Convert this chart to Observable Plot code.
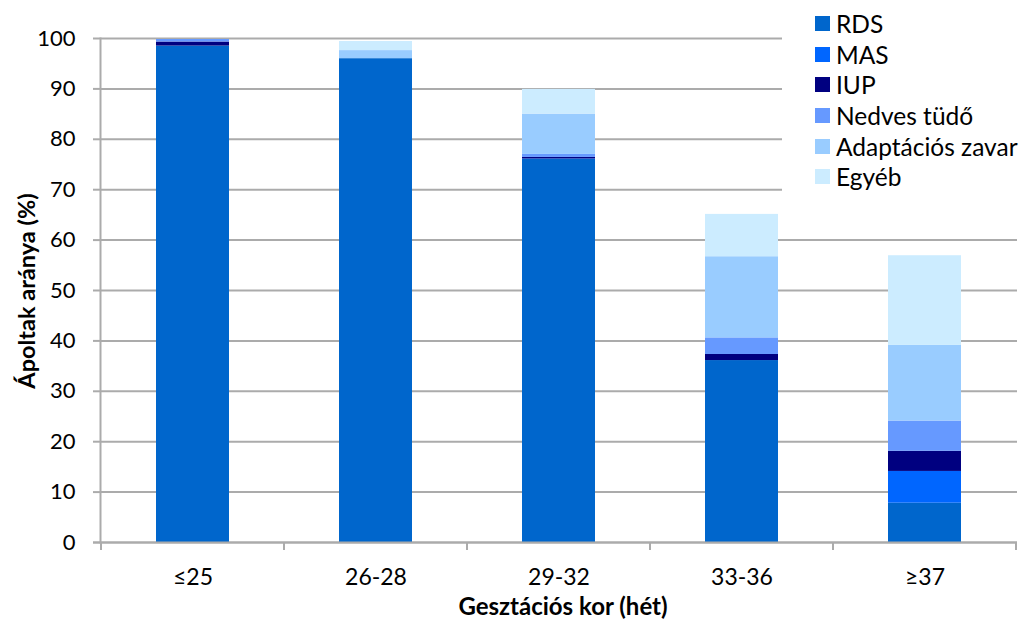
<!DOCTYPE html>
<html><head><meta charset="utf-8">
<script src="https://cdn.jsdelivr.net/npm/d3@7"></script>
<script src="https://cdn.jsdelivr.net/npm/@observablehq/plot@0.6"></script>
<style>
body{margin:0;background:#fff;font-family:Lato,"Noto Sans",sans-serif}
#wrap{position:relative;width:1022px;height:619px;overflow:hidden}
#legend{position:absolute;left:782px;top:4px;width:240px;background:#fff;padding:4px 0 8px 0}
.li{display:flex;align-items:center;height:30.7px;font-size:24.5px;color:#000;padding-left:33px;white-space:nowrap}
.sw{width:15px;height:15px;margin-right:6px;flex:none}
#ytitle{position:absolute;left:26px;top:291px;transform:translate(-50%,-50%) rotate(-90deg);font-weight:bold;font-size:23.5px;white-space:nowrap}
#xtitle{position:absolute;left:563px;top:605px;transform:translate(-50%,-50%);font-weight:bold;font-size:24px;white-space:nowrap}
</style></head><body><div id="wrap"></div>
<script>
const categories = ["≤25","26-28","29-32","33-36","≥37"];
const series = ["RDS","MAS","IUP","Nedves tüdő","Adaptációs zavar","Egyéb"];
const colors = ["#0066CC","#0066FF","#000080","#6699FF","#99CCFF","#CCECFF"];
const rds    = [98.5, 96.0, 76.0, 36.1, 7.8];
const mas    = [0.0, 0.0, 0.1, 0.0, 6.3];
const iup    = [0.8, 0.0, 0.3, 1.2, 4.0];
const nedves = [0.5, 0.0, 0.6, 3.3, 6.0];
const adapt  = [0.0, 1.6, 8.0, 16.1, 15.0];
const egyeb  = [0.0, 1.8, 4.9, 8.4, 17.8];
const yTicks = [0,10,20,30,40,50,60,70,80,90,100];
const yTitle = "Ápoltak aránya (%)";
const xTitle = "Gesztációs kor (hét)";

const valueArrays = [rds, mas, iup, nedves, adapt, egyeb];
const data = [];
series.forEach((s, si) => categories.forEach((c, ci) => data.push({cat: c, series: s, value: valueArrays[si][ci]})));

const axisColor = "#ABABAB";
const PI = 0.6, PO = 0.3;

function bandTicks(index, scales, values, dims) {
  const x = scales.x;
  const n = categories.length;
  let step = typeof x.step === "function" ? x.step() : x.step;
  let bw = typeof x.bandwidth === "function" ? x.bandwidth() : x.bandwidth;
  if (!(step > 0)) { step = (dims.width - dims.marginLeft - dims.marginRight) / (n - PI + 2 * PO); bw = step * (1 - PI); }
  const gap = (step - bw) / 2;
  const edges = categories.map(c => x(c) - gap);
  edges.push(x(categories[n - 1]) + bw + gap);
  const y0 = scales.y(0);
  const g = d3.create("svg:g").attr("stroke", axisColor).attr("stroke-width", 2);
  g.selectAll("line").data(edges).join("line")
    .attr("x1", d => d).attr("x2", d => d).attr("y1", y0).attr("y2", y0 + 8);
  return g.node();
}

const plot = Plot.plot({
  width: 1022,
  height: 619,
  marginLeft: 100,
  marginRight: 5,
  marginTop: 38,
  marginBottom: 77,
  style: {fontFamily: "Lato, 'Noto Sans', sans-serif", fontSize: "22px", color: "#000", background: "#fff"},
  x: {domain: categories, paddingInner: PI, paddingOuter: PO, label: null},
  y: {domain: [0, 100], label: null},
  color: {domain: series, range: colors},
  marks: [
    Plot.gridY(yTicks, {stroke: axisColor, strokeOpacity: 1, strokeWidth: 2}),
    Plot.barY(data, Plot.stackY({order: series}, {x: "cat", y: "value", fill: "series", inset: 0})),
    Plot.ruleY([0], {stroke: axisColor, strokeWidth: 2, insetLeft: -7}),
    Plot.axisY(yTicks, {tickSize: 7, tickPadding: 18, stroke: axisColor, strokeWidth: 2, fill: "#000", fontSize: 22, label: null}),
    Plot.frame({anchor: "left", stroke: axisColor, strokeWidth: 2}),
    Plot.axisX({tickSize: 0, tickPadding: 26, fill: "#000", fontSize: 23, label: null}),
    bandTicks
  ]
});

const wrap = document.getElementById("wrap");
wrap.appendChild(plot);

const legend = document.createElement("div");
legend.id = "legend";
series.forEach((s, i) => {
  const row = document.createElement("div");
  row.className = "li";
  const sw = document.createElement("span");
  sw.className = "sw";
  sw.style.background = colors[i];
  row.appendChild(sw);
  row.appendChild(document.createTextNode(s));
  legend.appendChild(row);
});
wrap.appendChild(legend);

const yt = document.createElement("div"); yt.id = "ytitle"; yt.textContent = yTitle; wrap.appendChild(yt);
const xt = document.createElement("div"); xt.id = "xtitle"; xt.textContent = xTitle; wrap.appendChild(xt);
</script></body></html>
